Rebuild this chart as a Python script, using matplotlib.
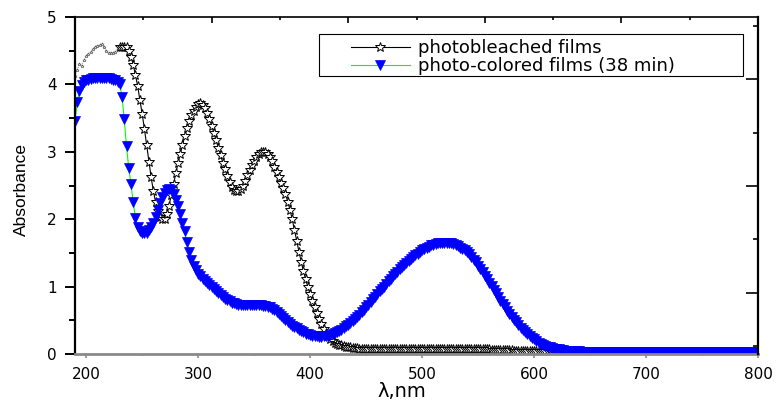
import numpy as np
import matplotlib
matplotlib.use("Agg")
import matplotlib.pyplot as plt
from matplotlib.patches import Rectangle

# wavelength grid (nm), 2 nm step
wavelength = np.arange(190, 802, 2)

# photobleached films
bleached = [
    4.12, 4.22, 4.30, 4.28, 4.36, 4.42, 4.45, 4.48, 4.52, 4.55,  # 190-208
    4.57, 4.58, 4.60, 4.55, 4.49, 4.47, 4.47, 4.47, 4.48, 4.52,  # 210-228
    4.55, 4.56, 4.56, 4.55, 4.50, 4.41, 4.29, 4.14, 3.97, 3.77,  # 230-248
    3.56, 3.34, 3.10, 2.85, 2.62, 2.42, 2.25, 2.12, 2.04, 2.00,  # 250-268
    2.01, 2.08, 2.20, 2.36, 2.52, 2.68, 2.83, 2.97, 3.10, 3.23,  # 270-288
    3.35, 3.45, 3.54, 3.61, 3.67, 3.71, 3.72, 3.70, 3.65, 3.58,  # 290-308
    3.49, 3.39, 3.28, 3.17, 3.06, 2.95, 2.84, 2.74, 2.64, 2.55,  # 310-328
    2.48, 2.44, 2.42, 2.42, 2.45, 2.50, 2.57, 2.65, 2.73, 2.81,  # 330-348
    2.86, 2.92, 2.96, 2.99, 3.00, 3.00, 2.97, 2.92, 2.86, 2.78,  # 350-368
    2.70, 2.62, 2.54, 2.46, 2.37, 2.26, 2.14, 2.00, 1.84, 1.68,  # 370-388
    1.52, 1.37, 1.23, 1.11, 0.99, 0.89, 0.79, 0.70, 0.61, 0.52,  # 390-408
    0.44, 0.37, 0.31, 0.26, 0.22, 0.19, 0.17, 0.15, 0.14, 0.13,  # 410-428
    0.12, 0.11, 0.10, 0.10, 0.09, 0.09, 0.09, 0.08, 0.08, 0.08,  # 430-448
    0.08, 0.08, 0.07, 0.07, 0.07, 0.07, 0.07, 0.07, 0.07, 0.07,  # 450-468
    0.07, 0.07, 0.07, 0.07, 0.07, 0.07, 0.07, 0.07, 0.07, 0.07,  # 470-488
    0.07, 0.07, 0.07, 0.07, 0.07, 0.07, 0.07, 0.07, 0.07, 0.07,  # 490-508
    0.07, 0.07, 0.07, 0.07, 0.07, 0.07, 0.07, 0.07, 0.07, 0.07,  # 510-528
    0.07, 0.07, 0.07, 0.07, 0.07, 0.07, 0.07, 0.07, 0.07, 0.07,  # 530-548
    0.07, 0.07, 0.07, 0.07, 0.07, 0.07, 0.06, 0.06, 0.06, 0.06,  # 550-568
    0.06, 0.06, 0.06, 0.06, 0.06, 0.06, 0.05, 0.05, 0.05, 0.05,  # 570-588
    0.05, 0.05, 0.05, 0.05, 0.05, 0.04, 0.04, 0.04, 0.04, 0.04,  # 590-608
    0.04, 0.04, 0.04, 0.03, 0.03, 0.03, 0.03, 0.03, 0.03, 0.03,  # 610-628
    0.03, 0.03, 0.03, 0.03, 0.03, 0.03, 0.03, 0.03, 0.03, 0.03,  # 630-648
    0.03, 0.03, 0.03, 0.03, 0.03, 0.03, 0.03, 0.03, 0.03, 0.03,  # 650-668
    0.03, 0.03, 0.03, 0.03, 0.03, 0.03, 0.03, 0.03, 0.03, 0.03,  # 670-688
    0.03, 0.03, 0.03, 0.03, 0.03, 0.03, 0.03, 0.03, 0.03, 0.03,  # 690-708
    0.03, 0.03, 0.03, 0.03, 0.03, 0.03, 0.03, 0.03, 0.03, 0.03,  # 710-728
    0.03, 0.03, 0.03, 0.03, 0.03, 0.03, 0.03, 0.03, 0.03, 0.03,  # 730-748
    0.03, 0.03, 0.03, 0.03, 0.03, 0.03, 0.03, 0.03, 0.03, 0.03,  # 750-768
    0.03, 0.03, 0.03, 0.03, 0.03, 0.03, 0.03, 0.03, 0.03, 0.03,  # 770-788
    0.03, 0.03, 0.03, 0.03, 0.03, 0.03,                          # 790-800
]

# photo-colored films, 38 min
colored = [
    3.45, 3.74, 3.90, 3.99, 4.03, 4.06, 4.07, 4.08, 4.09, 4.09,  # 190-208
    4.10, 4.10, 4.10, 4.10, 4.10, 4.09, 4.08, 4.07, 4.06, 4.04,  # 210-228
    4.00, 3.82, 3.48, 3.08, 2.76, 2.52, 2.25, 2.02, 1.88, 1.82,  # 230-248
    1.79, 1.79, 1.80, 1.84, 1.88, 1.95, 2.04, 2.14, 2.24, 2.33,  # 250-268
    2.39, 2.43, 2.45, 2.43, 2.38, 2.29, 2.20, 2.08, 1.95, 1.82,  # 270-288
    1.66, 1.52, 1.40, 1.30, 1.24, 1.19, 1.15, 1.12, 1.09, 1.06,  # 290-308
    1.03, 1.00, 0.97, 0.94, 0.91, 0.88, 0.85, 0.82, 0.80, 0.78,  # 310-328
    0.76, 0.75, 0.74, 0.73, 0.72, 0.72, 0.72, 0.72, 0.72, 0.72,  # 330-348
    0.72, 0.72, 0.72, 0.72, 0.71, 0.71, 0.70, 0.69, 0.67, 0.65,  # 350-368
    0.62, 0.59, 0.56, 0.53, 0.50, 0.47, 0.45, 0.42, 0.40, 0.38,  # 370-388
    0.36, 0.34, 0.32, 0.30, 0.29, 0.28, 0.27, 0.26, 0.26, 0.25,  # 390-408
    0.25, 0.26, 0.26, 0.27, 0.28, 0.29, 0.31, 0.32, 0.34, 0.36,  # 410-428
    0.38, 0.41, 0.43, 0.46, 0.49, 0.52, 0.55, 0.58, 0.62, 0.66,  # 430-448
    0.69, 0.73, 0.77, 0.81, 0.85, 0.89, 0.93, 0.96, 1.00, 1.04,  # 450-468
    1.08, 1.12, 1.15, 1.19, 1.22, 1.26, 1.29, 1.32, 1.35, 1.38,  # 470-488
    1.41, 1.44, 1.47, 1.49, 1.52, 1.54, 1.56, 1.58, 1.59, 1.61,  # 490-508
    1.62, 1.63, 1.64, 1.65, 1.65, 1.65, 1.65, 1.64, 1.64, 1.63,  # 510-528
    1.62, 1.60, 1.58, 1.56, 1.54, 1.51, 1.48, 1.44, 1.40, 1.36,  # 530-548
    1.31, 1.26, 1.21, 1.16, 1.11, 1.06, 1.01, 0.95, 0.90, 0.84,  # 550-568
    0.79, 0.74, 0.69, 0.64, 0.59, 0.55, 0.51, 0.47, 0.43, 0.39,  # 570-588
    0.36, 0.33, 0.30, 0.27, 0.24, 0.22, 0.19, 0.17, 0.15, 0.14,  # 590-608
    0.12, 0.11, 0.10, 0.09, 0.08, 0.07, 0.07, 0.06, 0.06, 0.05,  # 610-628
    0.05, 0.05, 0.04, 0.04, 0.04, 0.04, 0.03, 0.03, 0.03, 0.03,  # 630-648
    0.03, 0.03, 0.03, 0.03, 0.03, 0.03, 0.03, 0.03, 0.03, 0.03,  # 650-668
    0.03, 0.03, 0.03, 0.03, 0.03, 0.03, 0.03, 0.03, 0.03, 0.03,  # 670-688
    0.03, 0.03, 0.03, 0.03, 0.03, 0.03, 0.03, 0.03, 0.03, 0.03,  # 690-708
    0.03, 0.03, 0.03, 0.03, 0.03, 0.03, 0.03, 0.03, 0.03, 0.03,  # 710-728
    0.03, 0.03, 0.03, 0.03, 0.03, 0.03, 0.03, 0.03, 0.03, 0.03,  # 730-748
    0.03, 0.03, 0.03, 0.03, 0.03, 0.03, 0.03, 0.03, 0.03, 0.03,  # 750-768
    0.03, 0.03, 0.03, 0.03, 0.03, 0.03, 0.03, 0.03, 0.03, 0.03,  # 770-788
    0.03, 0.03, 0.03, 0.03, 0.03, 0.03,                          # 790-800
]

labels = ["photobleached films", "photo-colored films (38 min)"]

bleached = np.array(bleached)
colored = np.array(colored)

plt.rcParams['font.family'] = ['DejaVu Sans']

fig = plt.figure(figsize=(7.76, 4.0), dpi=100)
ax = fig.add_axes([75 / 776, 46 / 400, 683 / 776, 337 / 400])

# noisy start of the bleached curve is drawn faint
noisy = wavelength <= 230
ax.plot(wavelength[noisy], bleached[noisy], ls=':', lw=0.6, color='0.35',
        marker='*', ms=2.5, mfc='white', mec='0.3', mew=0.4)
main = wavelength >= 230
ax.plot(wavelength[main], bleached[main], color='black', lw=0.8,
        marker='*', ms=7.5, mfc='white', mec='black', mew=0.7, label=labels[0])
ax.plot(wavelength, colored, color='#00ff00', lw=0.8,
        marker='v', ms=7, mfc='#0000ff', mec='#0000ff', mew=0.5, label=labels[1])

ax.set_xlim(190, 800)
ax.set_ylim(0, 5)
ax.set_xticks(np.arange(200, 801, 100))
ax.set_xticks(np.arange(250, 800, 100), minor=True)
ax.set_yticks(np.arange(0, 6, 1))
ax.set_yticks(np.arange(0.5, 5, 1), minor=True)

for s in ['top', 'right']:
    ax.spines[s].set_visible(False)
ax.spines['left'].set_linewidth(1.6)
ax.spines['bottom'].set_linewidth(2)
ax.spines['bottom'].set_color('#8a8a8a')

ax.tick_params(axis='x', which='major', direction='out', length=3, width=1.2,
               color='#8a8a8a', pad=6.5, labelsize=11)
ax.tick_params(axis='x', which='minor', direction='out', length=1.6, width=1.2,
               color='#8a8a8a')
ax.tick_params(axis='y', which='major', direction='out', length=7.5, width=1.4,
               pad=5.5, labelsize=11)
ax.tick_params(axis='y', which='minor', direction='out', length=4.3, width=1.4)

ax.set_xlabel('λ,nm', fontsize=14)
ax.xaxis.set_label_coords(0.479, -0.082)
ax.set_ylabel('Absorbance', fontsize=12.5,
              family=['Liberation Sans Narrow', 'Liberation Sans'])
ax.yaxis.set_label_coords(-0.068, 0.487)

# top frame with its own ticks
ax_top = ax.twiny()
ax_top.set_xlim(0, 10)
ax_top.set_xticks([2, 4, 6, 8, 10])
ax_top.set_xticks([1, 3, 5, 7, 9], minor=True)
ax_top.tick_params(axis='x', which='major', direction='in', length=4.3, width=1.2,
                   labeltop=False)
ax_top.tick_params(axis='x', which='minor', direction='in', length=2.2, width=1.2)
for s in ['bottom', 'left', 'right']:
    ax_top.spines[s].set_visible(False)
ax_top.spines['top'].set_linewidth(1.2)

# right frame with its own ticks
ax_r = ax.twinx()
ax_r.set_ylim(-0.15, 6.17)
ax_r.set_yticks([1, 3, 5])
ax_r.set_yticks([0, 2, 4, 6], minor=True)
ax_r.tick_params(axis='y', which='major', direction='in', length=8.5, width=1.2,
                 labelright=False)
ax_r.tick_params(axis='y', which='minor', direction='in', length=3.6, width=1.2)
for s in ['bottom', 'left', 'top']:
    ax_r.spines[s].set_visible(False)
ax_r.spines['right'].set_linewidth(1.6)

# legend box
ax.add_patch(Rectangle((0.3572, 0.8249), 0.6208, 0.1246, transform=ax.transAxes,
                       facecolor='white', edgecolor='black', lw=0.8, zorder=5))
leg = ax.legend(loc='center left', bbox_to_anchor=(0.404, 0.881), frameon=False,
                fontsize=13, borderpad=0, borderaxespad=0, labelspacing=0,
                handlelength=3.27, handletextpad=0.44)
leg.set_zorder(6)

fig.savefig('out.png', dpi=100)
